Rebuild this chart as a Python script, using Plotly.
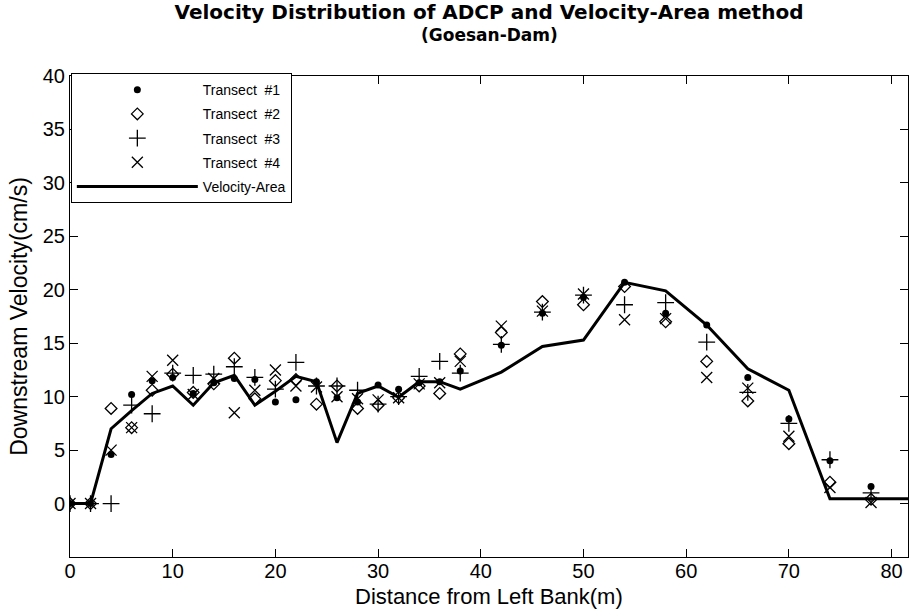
import plotly.graph_objects as go

# Scatter stations (m)
x_pts = [0, 2, 4, 6, 8, 10, 12, 14, 16, 18, 20, 22, 24, 26, 28, 30, 32, 34, 36, 38,
         42, 46, 50, 54, 58, 62, 66, 70, 74, 78]
transect1 = [0, 0, 4.6, 10.2, 11.5, 11.8, 10.3, 11.3, 11.7, 11.6, 9.5, 9.7, 11.4, 9.9, 9.5, 11.1,
             10.7, 11.3, 11.4, 12.4, 14.8, 17.8, 19.3, 20.7, 17.8, 16.7, 11.8, 7.9, 4.0, 1.6]
transect2 = [0, 0, 8.9, 7.1, 10.6, 12.1, 10.4, 11.2, 13.6, 9.8, 11.5, 11.6, 9.3, 11.0, 8.9, 9.2,
             9.9, 11.0, 10.3, 14.0, 16.0, 18.9, 18.6, 20.3, 17.0, 13.3, 9.6, 5.6, 2.0, 0.4]
transect3 = [0, 0, 0, 9.2, 8.4, 12.2, 12.0, 12.1, 12.8, 11.8, 10.7, 13.2, 11.0, 11.0, 10.6, 9.3,
             10.0, 11.9, 13.3, 12.2, 14.9, 17.9, 19.5, 18.6, 18.8, 15.1, 10.4, 7.5, 4.1, 1.0]
transect4 = [0, 0, 5.0, 7.1, 11.9, 13.4, 10.2, 11.7, 8.5, 10.6, 12.5, 11.0, 10.9, 10.0, 9.8, 9.7,
             9.9, 11.2, 11.3, 13.3, 16.6, 18.0, 19.6, 17.2, 17.3, 11.8, 10.8, 6.3, 1.5, 0.1]

# Velocity-Area method line
va_x = [0, 2, 4, 6, 8, 10, 12, 14, 16, 18, 20, 22, 24, 26, 28, 30, 32, 34, 36, 38,
        42, 46, 50, 54, 58, 62, 66, 70, 74, 78, 82]
va_y = [0, 0, 7.0, 8.7, 10.3, 11.0, 9.2, 11.3, 12.0, 9.2, 10.5, 11.9, 11.4, 5.7, 10.3, 11.0,
        9.95, 11.4, 11.4, 10.7, 12.3, 14.7, 15.3, 20.7, 19.9, 16.7, 12.6, 10.6, 0.45, 0.45, 0.45]

x_ticks = [0, 10, 20, 30, 40, 50, 60, 70, 80]
y_ticks = [0, 5, 10, 15, 20, 25, 30, 35, 40]

fig = go.Figure()
fig.add_trace(go.Scatter(x=x_pts, y=transect1, mode="markers", name="Transect  #1",
                         legendgroup="t1",
                         marker=dict(symbol="circle", size=7, color="black")))
fig.add_trace(go.Scatter(x=x_pts, y=transect2, mode="markers", name="Transect  #2",
                         legendgroup="t2",
                         marker=dict(symbol="diamond-open", size=9, color="black",
                                     line=dict(width=1.3, color="black"))))
fig.add_trace(go.Scatter(x=x_pts, y=transect3, mode="markers", name="Transect  #3",
                         legendgroup="t3",
                         marker=dict(symbol="cross-thin-open", size=12, color="black",
                                     line=dict(width=1.3, color="black"))))
fig.add_trace(go.Scatter(x=x_pts, y=transect4, mode="markers", name="Transect  #4",
                         legendgroup="t4",
                         marker=dict(symbol="x-thin-open", size=11, color="black",
                                     line=dict(width=1.3, color="black"))))
fig.add_trace(go.Scatter(x=va_x, y=va_y, mode="lines", name="Velocity-Area",
                         legendgroup="va",
                         line=dict(color="black", width=3)))

sans = "Liberation Sans, Arial"
tick_font = dict(family=sans, size=20, color="black")
title_font = dict(family=sans, size=23, color="black")

# plot area: top 76 px, height 481 px -> paper coordinates of text placed outside it
sub_y = 1 + (76 - 35) / 481
xtitle_y = -(596 - 557) / 481

fig.update_layout(
    width=909, height=609,
    margin=dict(l=70, r=1, t=76, b=52, autoexpand=False),
    paper_bgcolor="white", plot_bgcolor="white",
    title=dict(text="<b>Velocity Distribution of ADCP and Velocity-Area method</b>",
               x=0.5, xref="paper", xanchor="center", yref="container",
               y=1 - 12 / 609, yanchor="middle",
               font=dict(family="DejaVu Sans, Liberation Sans, Arial", size=20, color="black")),
    annotations=[
        dict(text="<b>(Goesan-Dam)</b>", x=0.5, xref="paper", xanchor="center",
             y=sub_y, yref="paper", yanchor="middle", showarrow=False,
             font=dict(family="DejaVu Sans, Liberation Sans, Arial", size=17, color="black")),
        dict(text="Distance from Left Bank(m)", x=0.5, xref="paper", xanchor="center",
             y=xtitle_y, yref="paper", yanchor="middle", showarrow=False,
             font=dict(family=sans, size=22, color="black")),
    ],
    xaxis=dict(range=[0, 81.6], tickvals=x_ticks, ticks="inside", ticklen=8,
               tickcolor="black", showline=True, linecolor="black", linewidth=1,
               mirror="ticks", showgrid=False, zeroline=False, tickfont=tick_font,
               ticklabelstandoff=-4, automargin=True),
    yaxis=dict(range=[-5, 40], tickvals=y_ticks, ticks="inside", ticklen=8,
               tickcolor="black", showline=True, linecolor="black", linewidth=1,
               mirror="ticks", showgrid=False, zeroline=False, tickfont=tick_font,
               automargin=True,
               title=dict(text="Downstream Velocity(cm/s)", standoff=8, font=title_font)),
    legend=dict(x=0.001, y=1.006, xanchor="left", yanchor="top",
                bgcolor="white", bordercolor="black", borderwidth=1,
                font=dict(family=sans, size=14, color="black"),
                itemwidth=121, tracegroupgap=3),
    showlegend=True,
)

fig.write_html("out.html", config={"displayModeBar": False},
               post_script="document.body.style.margin='0';")
